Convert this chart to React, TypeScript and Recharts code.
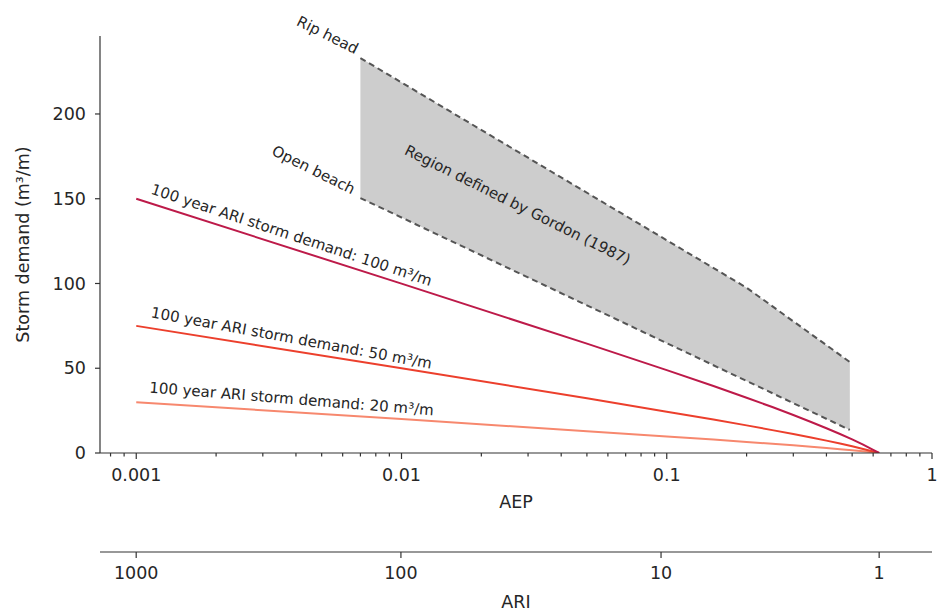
import React from 'react';
import {
  ComposedChart,
  Line,
  Area,
  XAxis,
  YAxis,
  Label,
  ReferenceDot,
} from 'recharts';

// Axis ticks
const AEP_MAJOR = [0.001, 0.01, 0.1, 1];
const AEP_MINOR = [
  0.0008, 0.0009,
  0.002, 0.003, 0.004, 0.005, 0.006, 0.007, 0.008, 0.009,
  0.02, 0.03, 0.04, 0.05, 0.06, 0.07, 0.08, 0.09,
  0.2, 0.3, 0.4, 0.5, 0.6, 0.7, 0.8, 0.9,
];
const ARI_TICKS = [1000, 100, 10, 1];
const Y_TICKS = [0, 50, 100, 150, 200];

// 100 year ARI storm demand curves
const STORM_AEP = [0.001, 0.01, 0.05, 0.1, 0.15, 0.2, 0.25, 0.3, 0.35, 0.4, 0.45, 0.5, 0.55, 0.6, 0.632];
const DEMAND_100 = [150, 99.9, 64.5, 48.9, 39.5, 32.6, 27.1, 22.4, 18.3, 14.6, 11.2, 8, 4.9, 1.9, 0];
const DEMAND_50 = [75, 50, 32.3, 24.4, 19.7, 16.3, 13.5, 11.2, 9.1, 7.3, 5.6, 4, 2.4, 0.9, 0];
const DEMAND_20 = [30, 20, 12.9, 9.8, 7.9, 6.5, 5.4, 4.5, 3.7, 2.9, 2.2, 1.6, 1, 0.4, 0];

// Gordon (1987) envelope
const GORDON_AEP = [0.007, 0.2, 0.49];
const RIP_HEAD = [233, 97.5, 53.7];
const OPEN_BEACH = [150.4, 42.5, 13.6];

const FONT = '"DejaVu Sans", sans-serif';
const TEXT = '#262626';
const AXIS = '#333333';

const stormRows = STORM_AEP.map((aep, i) => ({
  aep,
  d100: DEMAND_100[i],
  d50: DEMAND_50[i],
  d20: DEMAND_20[i],
}));

const gordonRows = GORDON_AEP.map((aep, i) => ({
  aep,
  rip: RIP_HEAD[i],
  open: OPEN_BEACH[i],
  band: [OPEN_BEACH[i], RIP_HEAD[i]],
}));

// annotation text: [label, aep, demand, angle]
const NOTES: [string, number, number, number][] = [
  ['100 year ARI storm demand: 100 m³/m', 0.00385, 128.6, 18.3],
  ['100 year ARI storm demand: 50 m³/m', 0.00385, 67.8, 10.4],
  ['100 year ARI storm demand: 20 m³/m', 0.00385, 31.9, 4.6],
  ['Rip head', 0.00526, 246.6, 26.5],
  ['Open beach', 0.00466, 167, 26.5],
  ['Region defined by Gordon (1987)', 0.0274, 146.3, 26.5],
];

const ariToAep = (ari: number) => 1 - Math.exp(-1 / ari);
const aepToAri = (aep: number) => Math.round(-1 / Math.log(1 - aep));

const AepTick = (props: any) => {
  const { x, y, payload } = props;
  const major = AEP_MAJOR.includes(payload.value);
  return (
    <g>
      <line x1={x} x2={x} y1={y} y2={y + (major ? 6 : 3.5)} stroke={AXIS} strokeWidth={1.2} />
      {major && (
        <text x={x} y={y + 28} textAnchor="middle" fontSize={17.5} fontFamily={FONT} fill={TEXT}>
          {String(payload.value)}
        </text>
      )}
    </g>
  );
};

const AriTick = (props: any) => {
  const { x, y, payload } = props;
  return (
    <g>
      <line x1={x} x2={x} y1={y} y2={y + 6} stroke={AXIS} strokeWidth={1.2} />
      <text x={x} y={y + 27} textAnchor="middle" fontSize={17.5} fontFamily={FONT} fill={TEXT}>
        {String(aepToAri(payload.value))}
      </text>
    </g>
  );
};

const NoteText = ({ cx, cy, text, angle }: any) => (
  <text
    x={cx}
    y={cy}
    textAnchor="middle"
    dominantBaseline="central"
    transform={`rotate(${angle} ${cx} ${cy})`}
    fontSize={15}
    fontFamily={FONT}
    fill={TEXT}
  >
    {text}
  </text>
);

export default function App() {
  return (
    <div style={{ position: 'absolute', left: 0, top: 0, background: '#fff' }}>
      <ComposedChart width={937} height={611} margin={{ top: 36, right: 5, bottom: 0, left: 0 }}>
        <XAxis
          xAxisId="aep"
          dataKey="aep"
          type="number"
          scale="log"
          domain={[0.00073, 1]}
          allowDataOverflow
          ticks={[...AEP_MAJOR, ...AEP_MINOR]}
          interval={0}
          tickSize={0}
          tickMargin={0}
          tickLine={false}
          tick={<AepTick />}
          height={99}
          stroke={AXIS}
          strokeWidth={1.2}
        >
          <Label
            content={(p: any) => (
              <text
                x={p.viewBox.x + p.viewBox.width / 2}
                y={p.viewBox.y + 55}
                textAnchor="middle"
                fontSize={17.5}
                fontFamily={FONT}
                fill={TEXT}
              >
                AEP
              </text>
            )}
          />
        </XAxis>
        <XAxis
          xAxisId="ari"
          dataKey="aep"
          type="number"
          scale="log"
          domain={[0.00073, 1]}
          allowDataOverflow
          ticks={ARI_TICKS.map(ariToAep)}
          interval={0}
          tickSize={0}
          tickMargin={0}
          tickLine={false}
          tick={<AriTick />}
          height={59}
          stroke={AXIS}
          strokeWidth={1.2}
        >
          <Label
            content={(p: any) => (
              <text
                x={p.viewBox.x + p.viewBox.width / 2}
                y={p.viewBox.y + 56}
                textAnchor="middle"
                fontSize={17.5}
                fontFamily={FONT}
                fill={TEXT}
              >
                ARI
              </text>
            )}
          />
        </XAxis>
        <YAxis
          type="number"
          domain={[0, 246]}
          allowDataOverflow
          ticks={Y_TICKS}
          interval={0}
          width={100}
          tickSize={5}
          tickMargin={9}
          tick={{ fontSize: 17.5, fontFamily: FONT, fill: TEXT }}
          stroke={AXIS}
          strokeWidth={1.2}
        >
          <Label
            content={(p: any) => {
              const x = p.viewBox.x + 29;
              const y = p.viewBox.y + p.viewBox.height / 2;
              return (
                <text
                  x={x}
                  y={y}
                  textAnchor="middle"
                  transform={`rotate(-90 ${x} ${y})`}
                  fontSize={17.5}
                  fontFamily={FONT}
                  fill={TEXT}
                >
                  Storm demand (m³/m)
                </text>
              );
            }}
          />
        </YAxis>

        {/* invisible series so the ARI axis gets a scale */}
        <Line
          xAxisId="ari"
          data={stormRows}
          dataKey="d100"
          stroke="none"
          dot={false}
          activeDot={false}
          isAnimationActive={false}
        />

        <Area
          xAxisId="aep"
          data={gordonRows}
          dataKey="band"
          type="linear"
          stroke="none"
          fill="#cdcdcd"
          fillOpacity={1}
          isAnimationActive={false}
        />
        <Line
          xAxisId="aep"
          data={gordonRows}
          dataKey="rip"
          type="linear"
          stroke="#555555"
          strokeWidth={2}
          strokeDasharray="6 4"
          dot={false}
          isAnimationActive={false}
        />
        <Line
          xAxisId="aep"
          data={gordonRows}
          dataKey="open"
          type="linear"
          stroke="#555555"
          strokeWidth={2}
          strokeDasharray="6 4"
          dot={false}
          isAnimationActive={false}
        />
        <Line
          xAxisId="aep"
          data={stormRows}
          dataKey="d20"
          type="linear"
          stroke="#f7886e"
          strokeWidth={2}
          dot={false}
          isAnimationActive={false}
        />
        <Line
          xAxisId="aep"
          data={stormRows}
          dataKey="d50"
          type="linear"
          stroke="#ec3f2c"
          strokeWidth={2}
          dot={false}
          isAnimationActive={false}
        />
        <Line
          xAxisId="aep"
          data={stormRows}
          dataKey="d100"
          type="linear"
          stroke="#bd1a49"
          strokeWidth={2}
          dot={false}
          isAnimationActive={false}
        />

        {NOTES.map(([text, aep, v, angle]) => (
          <ReferenceDot
            key={text}
            xAxisId="aep"
            x={aep}
            y={v}
            r={0}
            ifOverflow="visible"
            shape={(p: any) => <NoteText cx={p.cx} cy={p.cy} text={text} angle={angle} />}
          />
        ))}
      </ComposedChart>
    </div>
  );
}
